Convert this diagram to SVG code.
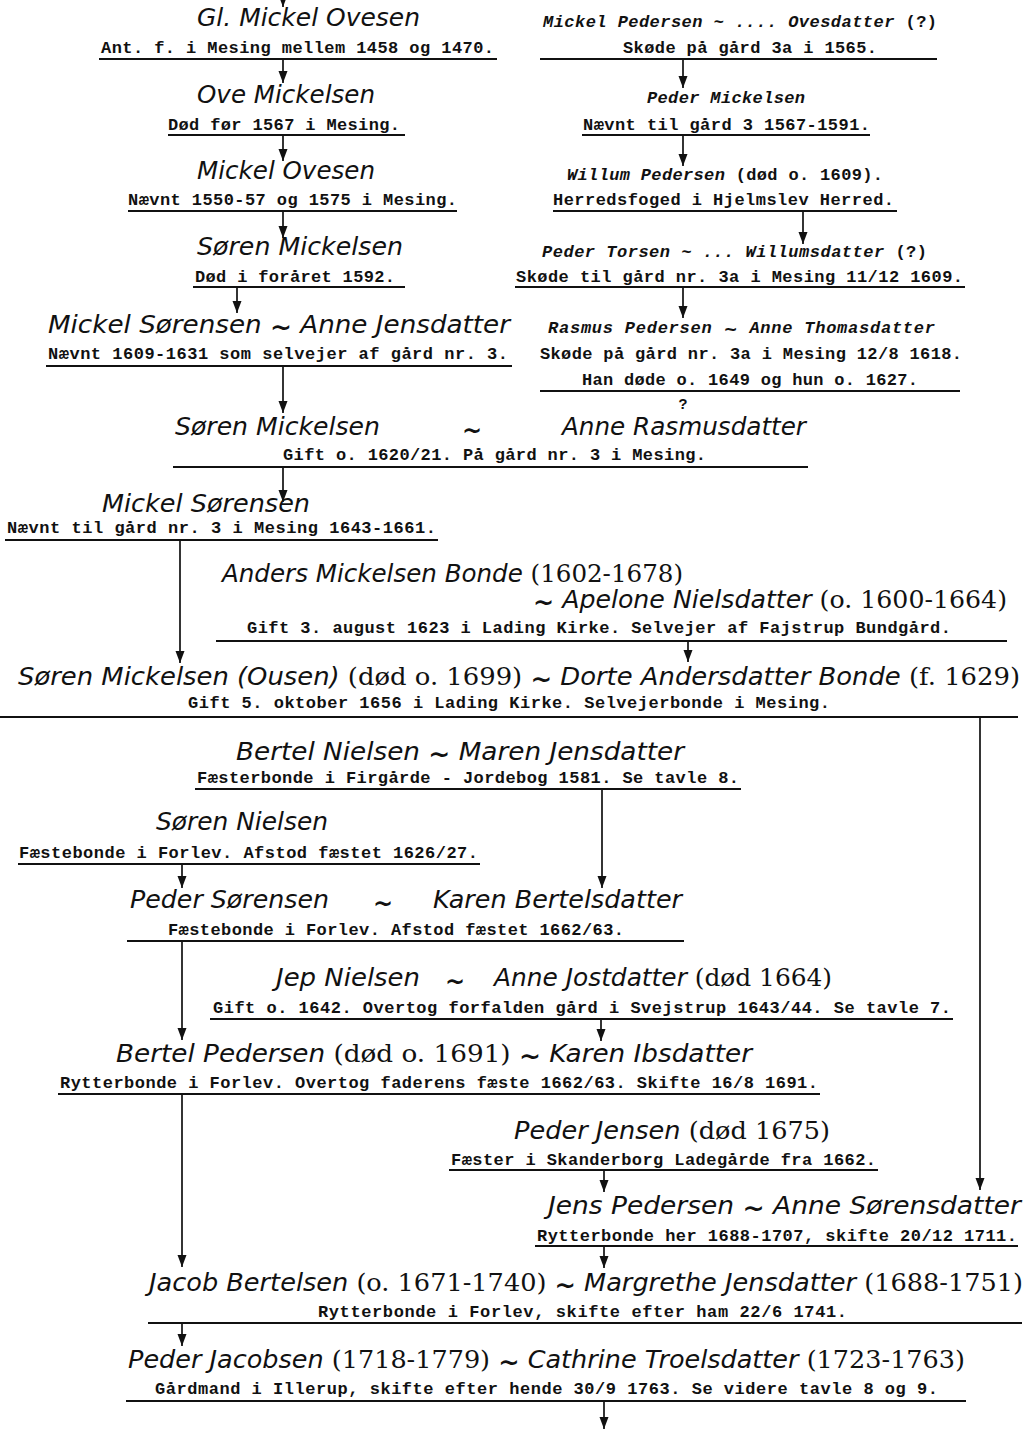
<svg xmlns="http://www.w3.org/2000/svg" width="1028" height="1431" viewBox="0 0 1028 1431">
<style>
.nm{font-family:"DejaVu Sans","Liberation Sans",sans-serif;font-style:italic;font-size:24px;fill:#111}
.up{font-family:"DejaVu Serif","Liberation Serif",serif;font-style:normal}
.tl{font-family:"DejaVu Sans",sans-serif;font-style:normal;font-weight:bold}
.nt{font-family:"Liberation Mono",monospace;font-weight:bold;font-size:17px;fill:#111}
.mi{font-family:"Liberation Mono",monospace;font-style:italic;font-weight:bold;font-size:17px;fill:#111}
.mu{font-style:normal}
.q{font-family:"Liberation Mono",monospace;font-weight:bold;font-size:15px;fill:#111}
.ul{stroke:#111;stroke-width:2.2}
.cn line{stroke:#111;stroke-width:1.7;marker-end:url(#ah)}
</style>
<defs>
<marker id="ah" markerUnits="userSpaceOnUse" markerWidth="13" markerHeight="10" refX="12" refY="4.5" orient="auto">
<path d="M0,0 L12,4.5 L0,9 Z" fill="#111"/>
</marker>
</defs>
<rect width="1028" height="1431" fill="#fff"/>

<g class="cn" id="connectors">
<line x1="283" y1="-4" x2="283" y2="7"/>
<line x1="283" y1="59" x2="283" y2="83"/>
<line x1="283" y1="135" x2="283" y2="161"/>
<line x1="283" y1="211" x2="283" y2="238"/>
<line x1="237" y1="287" x2="237" y2="313"/>
<line x1="283" y1="366" x2="283" y2="413"/>
<line x1="283" y1="467" x2="283" y2="502"/>
<line x1="683" y1="59" x2="683" y2="88"/>
<line x1="683" y1="135" x2="683" y2="166"/>
<line x1="803" y1="211" x2="803" y2="244"/>
<line x1="683" y1="287" x2="683" y2="318"/>
<line x1="180" y1="540" x2="180" y2="663"/>
<line x1="688" y1="641" x2="688" y2="662"/>
<line x1="980" y1="717" x2="980" y2="1190"/>
<line x1="602" y1="789" x2="602" y2="888"/>
<line x1="182" y1="864" x2="182" y2="888"/>
<line x1="182" y1="941" x2="182" y2="1040"/>
<line x1="601" y1="1019" x2="601" y2="1041"/>
<line x1="182" y1="1094" x2="182" y2="1267"/>
<line x1="604" y1="1170" x2="604" y2="1192"/>
<line x1="604" y1="1246" x2="604" y2="1268"/>
<line x1="182" y1="1323" x2="182" y2="1346"/>
<line x1="604" y1="1401" x2="604" y2="1429"/>
</g>

<g id="n1">
<text class="nm" x="197" y="26" textLength="223" lengthAdjust="spacingAndGlyphs">Gl. Mickel Ovesen</text>
<text class="nt" x="101" y="53" textLength="393">Ant. f. i Mesing mellem 1458 og 1470.</text>
<line class="ul" x1="99" y1="59" x2="497" y2="59"/>
</g>
<g id="n2">
<text class="nm" x="197" y="103" textLength="178" lengthAdjust="spacingAndGlyphs">Ove Mickelsen</text>
<text class="nt" x="168" y="130" textLength="232">Død før 1567 i Mesing.</text>
<line class="ul" x1="168" y1="135" x2="405" y2="135"/>
</g>
<g id="n3">
<text class="nm" x="197" y="179" textLength="178" lengthAdjust="spacingAndGlyphs">Mickel Ovesen</text>
<text class="nt" x="128" y="205" textLength="329">Nævnt 1550-57 og 1575 i Mesing.</text>
<line class="ul" x1="128" y1="211" x2="457" y2="211"/>
</g>
<g id="n4">
<text class="nm" x="197" y="255" textLength="206" lengthAdjust="spacingAndGlyphs">Søren Mickelsen</text>
<text class="nt" x="195" y="282" textLength="200">Død i foråret 1592.</text>
<line class="ul" x1="193" y1="287" x2="405" y2="287"/>
</g>
<g id="n5">
<text class="nm" x="48" y="333" textLength="462" lengthAdjust="spacingAndGlyphs">Mickel Sørensen <tspan class="tl" dy="3">~</tspan><tspan dy="-3"> Anne Jensdatter</tspan></text>
<text class="nt" x="48" y="359" textLength="460">Nævnt 1609-1631 som selvejer af gård nr. 3.</text>
<line class="ul" x1="46" y1="366" x2="512" y2="366"/>
</g>

<g id="r1">
<text class="mi" x="543" y="27" textLength="394">Mickel Pedersen ~ .... Ovesdatter <tspan class="mu">(?)</tspan></text>
<text class="nt" x="623" y="53" textLength="254">Skøde på gård 3a i 1565.</text>
<line class="ul" x1="540" y1="59" x2="937" y2="59"/>
</g>
<g id="r2">
<text class="mi" x="647" y="103" textLength="158">Peder Mickelsen</text>
<text class="nt" x="583" y="130" textLength="287">Nævnt til gård 3 1567-1591.</text>
<line class="ul" x1="582" y1="135" x2="870" y2="135"/>
</g>
<g id="r3">
<text class="mi" x="567" y="180" textLength="316">Willum Pedersen <tspan class="mu">(død o. 1609).</tspan></text>
<text class="nt" x="553" y="205" textLength="341">Herredsfoged i Hjelmslev Herred.</text>
<line class="ul" x1="553" y1="211" x2="897" y2="211"/>
</g>
<g id="r4">
<text class="mi" x="542" y="257" textLength="385">Peder Torsen ~ ... Willumsdatter <tspan class="mu">(?)</tspan></text>
<text class="nt" x="516" y="282" textLength="447">Skøde til gård nr. 3a i Mesing 11/12 1609.</text>
<line class="ul" x1="515" y1="287" x2="965" y2="287"/>
</g>
<g id="r5">
<text class="mi" x="548" y="333" textLength="387">Rasmus Pedersen <tspan class="tl" dy="2">~</tspan><tspan dy="-2"> Anne Thomasdatter</tspan></text>
<text class="nt" x="540" y="359" textLength="422">Skøde på gård nr. 3a i Mesing 12/8 1618.</text>
<text class="nt" x="582" y="385" textLength="336">Han døde o. 1649 og hun o. 1627.</text>
<line class="ul" x1="540" y1="391" x2="960" y2="391"/>
<text class="q" x="683" y="409" text-anchor="middle">?</text>
</g>

<g id="n6">
<text class="nm" x="175" y="435" textLength="205" lengthAdjust="spacingAndGlyphs">Søren Mickelsen</text>
<text class="nm tl" x="472" y="439" text-anchor="middle">~</text>
<text class="nm" x="562" y="435" textLength="244" lengthAdjust="spacingAndGlyphs">Anne Rasmusdatter</text>
<text class="nt" x="283" y="460" textLength="423">Gift o. 1620/21. På gård nr. 3 i Mesing.</text>
<line class="ul" x1="173" y1="467" x2="808" y2="467"/>
</g>
<g id="n7">
<text class="nm" x="102" y="512" textLength="208" lengthAdjust="spacingAndGlyphs">Mickel Sørensen</text>
<text class="nt" x="7" y="533" textLength="429">Nævnt til gård nr. 3 i Mesing 1643-1661.</text>
<line class="ul" x1="5" y1="540" x2="438" y2="540"/>
</g>

<g id="n8">
<text class="nm" x="222" y="582" textLength="461" lengthAdjust="spacingAndGlyphs">Anders Mickelsen Bonde <tspan class="up">(1602-1678)</tspan></text>
<text class="nm" x="533" y="608" textLength="474" lengthAdjust="spacingAndGlyphs"><tspan class="tl" dy="3">~</tspan><tspan dy="-3"> Apelone Nielsdatter </tspan><tspan class="up">(o. 1600-1664)</tspan></text>
<text class="nt" x="247" y="633" textLength="704">Gift 3. august 1623 i Lading Kirke. Selvejer af Fajstrup Bundgård.</text>
<line class="ul" x1="216" y1="641" x2="1007" y2="641"/>
</g>
<g id="n9">
<text class="nm" x="18" y="685" textLength="1002" lengthAdjust="spacingAndGlyphs">Søren Mickelsen (Ousen) <tspan class="up">(død o. 1699)</tspan> <tspan class="tl" dy="3">~</tspan><tspan dy="-3"> Dorte Andersdatter Bonde </tspan><tspan class="up">(f. 1629)</tspan></text>
<text class="nt" x="188" y="708" textLength="642">Gift 5. oktober 1656 i Lading Kirke. Selvejerbonde i Mesing.</text>
<line class="ul" x1="0" y1="717" x2="1018" y2="717"/>
</g>

<g id="n10">
<text class="nm" x="236" y="760" textLength="448" lengthAdjust="spacingAndGlyphs">Bertel Nielsen <tspan class="tl" dy="3">~</tspan><tspan dy="-3"> Maren Jensdatter</tspan></text>
<text class="nt" x="197" y="783" textLength="542">Fæsterbonde i Firgårde - Jordebog 1581. Se tavle 8.</text>
<line class="ul" x1="195" y1="789" x2="741" y2="789"/>
</g>
<g id="n11">
<text class="nm" x="156" y="830" textLength="172" lengthAdjust="spacingAndGlyphs">Søren Nielsen</text>
<text class="nt" x="19" y="858" textLength="459">Fæstebonde i Forlev. Afstod fæstet 1626/27.</text>
<line class="ul" x1="18" y1="864" x2="480" y2="864"/>
</g>
<g id="n12">
<text class="nm" x="130" y="908" textLength="199" lengthAdjust="spacingAndGlyphs">Peder Sørensen</text>
<text class="nm tl" x="383" y="912" text-anchor="middle">~</text>
<text class="nm" x="433" y="908" textLength="249" lengthAdjust="spacingAndGlyphs">Karen Bertelsdatter</text>
<text class="nt" x="168" y="935" textLength="456">Fæstebonde i Forlev. Afstod fæstet 1662/63.</text>
<line class="ul" x1="127" y1="941" x2="684" y2="941"/>
</g>
<g id="n13">
<text class="nm" x="276" y="986" textLength="144" lengthAdjust="spacingAndGlyphs">Jep Nielsen</text>
<text class="nm tl" x="455" y="990" text-anchor="middle">~</text>
<text class="nm" x="494" y="986" textLength="338" lengthAdjust="spacingAndGlyphs">Anne Jostdatter <tspan class="up">(død 1664)</tspan></text>
<text class="nt" x="213" y="1013" textLength="738">Gift o. 1642. Overtog forfalden gård i Svejstrup 1643/44. Se tavle 7.</text>
<line class="ul" x1="210" y1="1019" x2="953" y2="1019"/>
</g>
<g id="n14">
<text class="nm" x="116" y="1062" textLength="636" lengthAdjust="spacingAndGlyphs">Bertel Pedersen <tspan class="up">(død o. 1691)</tspan> <tspan class="tl" dy="3">~</tspan><tspan dy="-3"> Karen Ibsdatter</tspan></text>
<text class="nt" x="60" y="1088" textLength="758">Rytterbonde i Forlev. Overtog faderens fæste 1662/63. Skifte 16/8 1691.</text>
<line class="ul" x1="58" y1="1094" x2="820" y2="1094"/>
</g>
<g id="n15">
<text class="nm" x="514" y="1139" textLength="316" lengthAdjust="spacingAndGlyphs">Peder Jensen <tspan class="up">(død 1675)</tspan></text>
<text class="nt" x="451" y="1165" textLength="425">Fæster i Skanderborg Ladegårde fra 1662.</text>
<line class="ul" x1="449" y1="1170" x2="878" y2="1170"/>
</g>
<g id="n16">
<text class="nm" x="548" y="1214" textLength="473" lengthAdjust="spacingAndGlyphs">Jens Pedersen <tspan class="tl" dy="3">~</tspan><tspan dy="-3"> Anne Sørensdatter</tspan></text>
<text class="nt" x="537" y="1241" textLength="480">Rytterbonde her 1688-1707, skifte 20/12 1711.</text>
<line class="ul" x1="535" y1="1246" x2="1018" y2="1246"/>
</g>
<g id="n17">
<text class="nm" x="149" y="1291" textLength="874" lengthAdjust="spacingAndGlyphs">Jacob Bertelsen <tspan class="up">(o. 1671-1740)</tspan> <tspan class="tl" dy="3">~</tspan><tspan dy="-3"> Margrethe Jensdatter </tspan><tspan class="up">(1688-1751)</tspan></text>
<text class="nt" x="318" y="1317" textLength="529">Rytterbonde i Forlev, skifte efter ham 22/6 1741.</text>
<line class="ul" x1="148" y1="1323" x2="1022" y2="1323"/>
</g>
<g id="n18">
<text class="nm" x="128" y="1368" textLength="837" lengthAdjust="spacingAndGlyphs">Peder Jacobsen <tspan class="up">(1718-1779)</tspan> <tspan class="tl" dy="3">~</tspan><tspan dy="-3"> Cathrine Troelsdatter </tspan><tspan class="up">(1723-1763)</tspan></text>
<text class="nt" x="155" y="1394" textLength="783">Gårdmand i Illerup, skifte efter hende 30/9 1763. Se videre tavle 8 og 9.</text>
<line class="ul" x1="126" y1="1401" x2="966" y2="1401"/>
</g>
</svg>
